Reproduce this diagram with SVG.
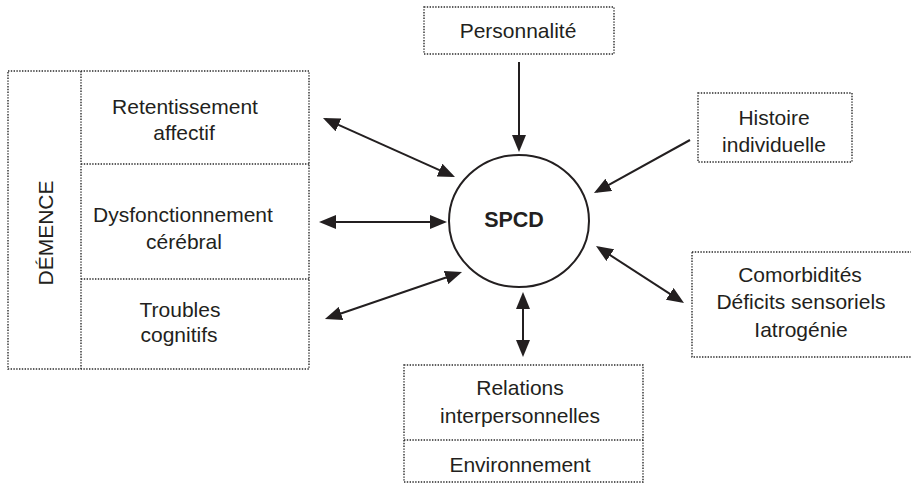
<svg xmlns="http://www.w3.org/2000/svg" width="911" height="483" viewBox="0 0 911 483">
<style>
.box{fill:none;stroke:#2a2a2a;stroke-width:1.4;stroke-dasharray:1.4 1.4}
.t{font-family:"Liberation Sans",Arial,sans-serif;font-size:21px;fill:#231f20;text-anchor:middle}
.b{font-weight:bold;font-size:21.5px}
.c{fill:none;stroke:#231f20;stroke-width:2}
.a{stroke:#231f20;stroke-width:2;fill:none}
</style>
<defs>
<marker id="ah" markerUnits="userSpaceOnUse" markerWidth="17" markerHeight="14" refX="14" refY="7" orient="auto-start-reverse" viewBox="0 0 17 14">
<path d="M0,0 L17,7 L0,14 z" fill="#231f20"/>
</marker>
</defs>
<rect width="911" height="483" fill="#fff"/>
<g id="demence">
<rect class="box" x="8" y="71" width="301" height="298"/>
<line class="box" x1="81" y1="71" x2="81" y2="369"/>
<line class="box" x1="81" y1="164" x2="309" y2="164"/>
<line class="box" x1="81" y1="279" x2="309" y2="279"/>
<text class="t" transform="translate(53,233) rotate(-90)">DÉMENCE</text>
</g>
<g id="retentissement">
<text class="t" x="185" y="114">Retentissement</text>
<text class="t" x="184" y="140">affectif</text>
</g>
<g id="dysfonctionnement">
<text class="t" x="183" y="222">Dysfonctionnement</text>
<text class="t" x="184" y="249">cérébral</text>
</g>
<g id="troubles">
<text class="t" x="180" y="317">Troubles</text>
<text class="t" x="179" y="342">cognitifs</text>
</g>
<g id="personnalite">
<rect class="box" x="424" y="7" width="190" height="47"/>
<text class="t" x="518" y="38">Personnalité</text>
</g>
<g id="spcd">
<ellipse class="c" cx="519" cy="221" rx="70" ry="66"/>
<text class="t b" x="514" y="227">SPCD</text>
</g>
<g id="histoire">
<rect class="box" x="698" y="93" width="154" height="69"/>
<text class="t" x="774" y="125">Histoire</text>
<text class="t" x="774" y="152">individuelle</text>
</g>
<g id="comorbidites">
<rect class="box" x="692" y="252" width="222" height="105"/>
<text class="t" x="800" y="282">Comorbidités</text>
<text class="t" x="801" y="309">Déficits sensoriels</text>
<text class="t" x="801" y="337">Iatrogénie</text>
</g>
<g id="relations">
<rect class="box" x="404" y="365" width="239" height="117"/>
<line class="box" x1="404" y1="440" x2="643" y2="440"/>
<text class="t" x="520" y="395">Relations</text>
<text class="t" x="520" y="423">interpersonnelles</text>
<text class="t" x="520" y="472">Environnement</text>
</g>
<g id="connectors">
<line class="a" x1="519" y1="62" x2="519" y2="149" marker-end="url(#ah)"/>
<line class="a" x1="325.7" y1="119.2" x2="452.3" y2="175.8" marker-start="url(#ah)" marker-end="url(#ah)"/>
<line class="a" x1="322" y1="222" x2="444" y2="222" marker-start="url(#ah)" marker-end="url(#ah)"/>
<line class="a" x1="690" y1="140" x2="596.6" y2="191.6" marker-end="url(#ah)"/>
<line class="a" x1="598.5" y1="247.6" x2="681.5" y2="301.4" marker-start="url(#ah)" marker-end="url(#ah)"/>
<line class="a" x1="327.8" y1="318" x2="459.2" y2="273" marker-start="url(#ah)" marker-end="url(#ah)"/>
<line class="a" x1="523" y1="295" x2="523" y2="354" marker-start="url(#ah)" marker-end="url(#ah)"/>
</g>
</svg>
